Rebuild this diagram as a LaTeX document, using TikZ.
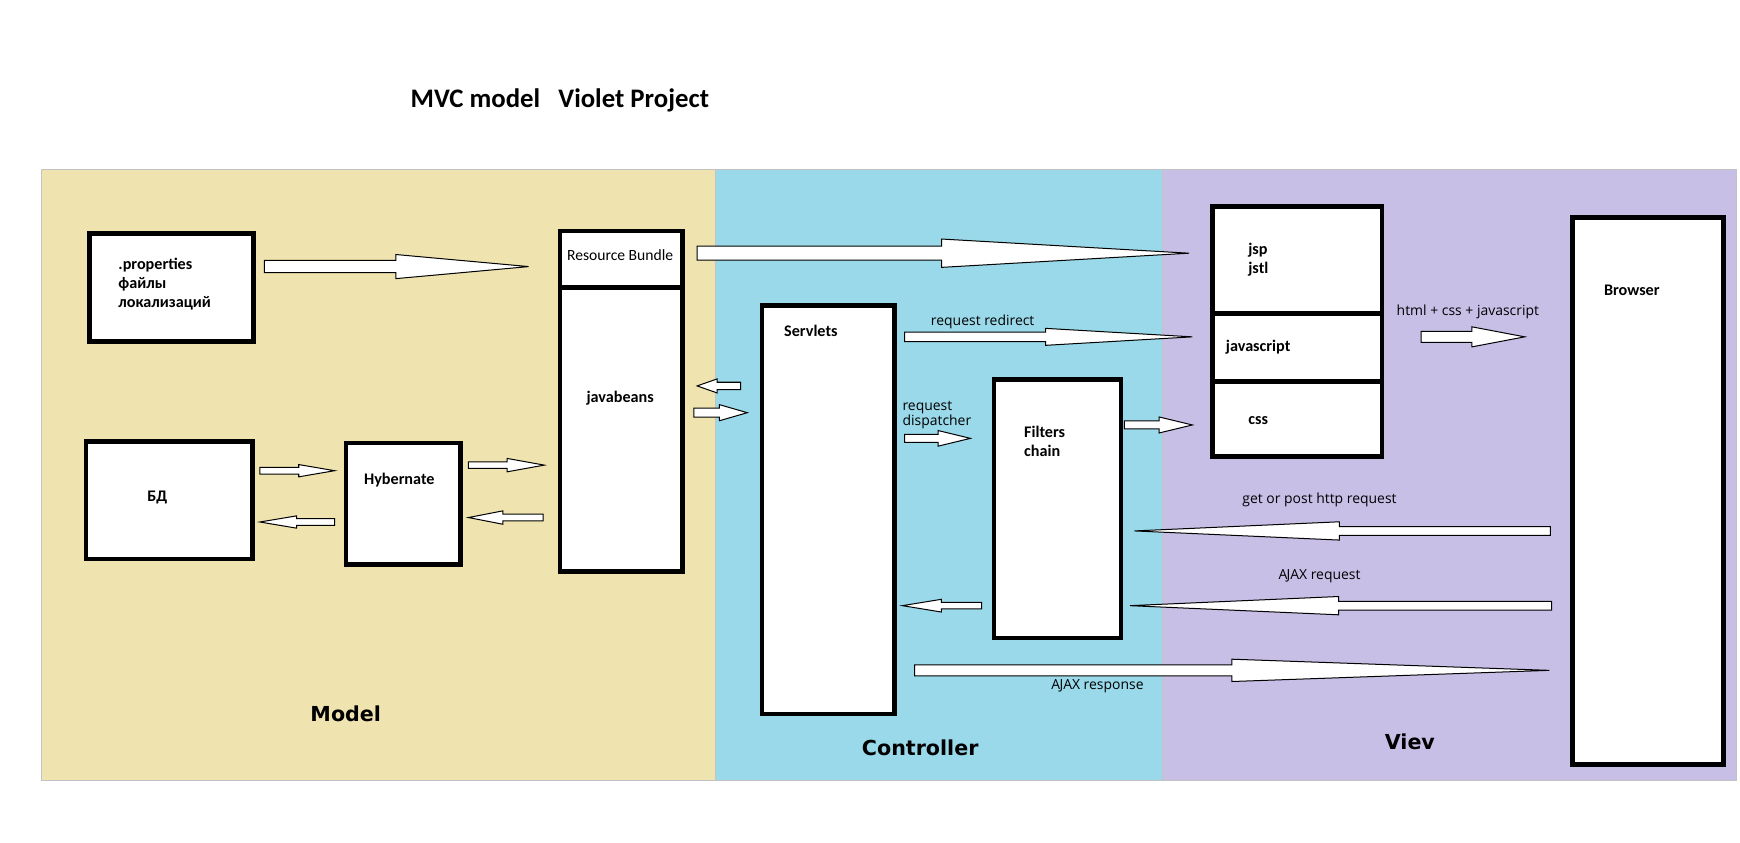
\documentclass[tikz,border=0pt]{standalone}
\usepackage{fontspec}
\setmainfont{Carlito}
\newfontfamily\labfont{Open Sans}
\newfontfamily\secfont{DejaVu Sans}
\usetikzlibrary{calc}
\definecolor{cream}{HTML}{EFE4B0}
\definecolor{turq}{HTML}{99D9EA}
\definecolor{lav}{HTML}{C8BFE7}
\definecolor{pgray}{HTML}{C3C3C3}
% block arrow: start, tip, head fraction, shaft half height, head half height
\newcommand\barrow[5]{%
  \draw[blockarrow] ($(#1)+(0,#4)$) -- ($(#1)!#3!(#2)+(0,#4)$) -- ($(#1)!#3!(#2)+(0,#5)$) -- (#2)
    -- ($(#1)!#3!(#2)+(0,-#5)$) -- ($(#1)!#3!(#2)+(0,-#4)$) -- ($(#1)+(0,-#4)$) -- cycle;}
\newcommand\ajax{A\kern-0.7ptJAX}
\begin{document}
\begin{tikzpicture}[x=1pt,y=-1pt,
  panel/.style={draw=pgray,line width=0.8pt},
  box/.style={draw=black,line width=4.2pt,fill=white,inner sep=0pt,anchor=north west},
  divider/.style={draw=black,line width=4.2pt},
  blockarrow/.style={draw=black,fill=white,line width=0.9pt,line join=miter},
  bl/.style={inner sep=0pt,font=\bfseries\fontsize{14.5}{17}\selectfont},
  rl/.style={inner sep=0pt,font=\fontsize{14}{17}\selectfont},
  sl/.style={inner sep=0pt,font=\labfont\fontsize{12.5}{10.5}\selectfont},
  sec/.style={inner sep=0pt,font=\secfont\bfseries\fontsize{18.5}{22}\selectfont},
  ttl/.style={inner sep=0pt,font=\bfseries\fontsize{24}{28}\selectfont}]
\useasboundingbox[fill=white] (0,0) rectangle (1560,755);
% panels
\fill[cream] (37,152) rectangle (641,700);
\fill[turq] (641,152) rectangle (1042,700);
\fill[lav] (1042,152) rectangle (1557,700);
\draw[panel] (37,152) rectangle (641,700);
\draw[panel] (641,152) rectangle (1042,700);
\draw[panel] (1042,152) rectangle (1557,700);
% title
\node[ttl,anchor=west] (title) at (368,90) {MVC model\ \ \ Violet Project};
% boxes
\node[box,minimum width=147pt,minimum height=97pt] (props) at (78,207) {};
\node[box,minimum width=110pt,minimum height=305pt] (rb) at (500,205) {};
\draw[divider] (500,258) -- (610,258);
\node[box,minimum width=149pt,minimum height=105pt] (db) at (75,394) {};
\node[box,minimum width=103pt,minimum height=109pt] (hyb) at (308,395) {};
\node[box,minimum width=119pt,minimum height=366pt] (serv) at (681,272) {};
\node[box,minimum width=114pt,minimum height=232pt] (filt) at (889,338) {};
\node[box,minimum width=152pt,minimum height=224pt] (view) at (1085,183) {};
\draw[divider] (1085,281) -- (1237,281);
\draw[divider] (1085,342) -- (1237,342);
\node[box,minimum width=135pt,minimum height=490pt] (brow) at (1408,193) {};
% box texts
\node[bl,anchor=west,align=left] (tprops) at (106,255) {.properties\\файлы\\локализаций};
\node[rl] (trb) at (556,229) {Resource Bundle};
\node[bl] (tjb) at (556,357) {javabeans};
\node[bl] (tdb) at (141,446) {БД};
\node[bl] (thyb) at (358,430) {Hybernate};
\node[bl] (tserv) at (727,297) {Servlets};
\node[bl,anchor=west,align=left] (tfilt) at (918,396) {Filters\\chain};
\node[bl,anchor=west,align=left] (tjsp) at (1119,233) {jsp\\jstl};
\node[bl] (tjs) at (1128,311) {javascript};
\node[bl] (tcss) at (1128,377) {css};
\node[bl] (tbrow) at (1463,260) {Browser};
% labels
\node[sl] (lredir) at (881,289) {request redirect};
\node[sl,anchor=west,align=left] (ldisp) at (809,372) {request\\dispatcher};
\node[sl] (lhtml) at (1316,280) {html + css + javascript};
\node[sl] (lget) at (1183,448) {get or post http request};
\node[sl] (lajq) at (1183,517) {\ajax{} request};
\node[sl] (lajr) at (984,615) {\ajax{} response};
\node[sec] (smodel) at (310,640) {Model};
\node[sec] (sctrl) at (825,670) {Controller};
\node[sec] (sview) at (1264,665) {Viev};
% arrow end points
\coordinate (a1s) at (237,239);  \coordinate (a1t) at (474,239);
\coordinate (a2s) at (625,227);  \coordinate (a2t) at (1066,227);
\coordinate (a3s) at (811,302);  \coordinate (a3t) at (1069,302);
\coordinate (a4s) at (664,346);  \coordinate (a4t) at (625,346);
\coordinate (a5s) at (622,370);  \coordinate (a5t) at (670,370);
\coordinate (a6s) at (811,393);  \coordinate (a6t) at (870,393);
\coordinate (a7s) at (1008,381); \coordinate (a7t) at (1069,381);
\coordinate (a8s) at (1274,302); \coordinate (a8t) at (1367,302);
\coordinate (a9s) at (233,422);  \coordinate (a9t) at (300,422);
\coordinate (a10s) at (300,468); \coordinate (a10t) at (233,468);
\coordinate (a11s) at (420,417); \coordinate (a11t) at (488,417);
\coordinate (a12s) at (487,464); \coordinate (a12t) at (420,464);
\coordinate (a13s) at (1390,476); \coordinate (a13t) at (1017,476);
\coordinate (a14s) at (1391,543); \coordinate (a14t) at (1013,543);
\coordinate (a15s) at (880,543); \coordinate (a15t) at (809,543);
\coordinate (a16s) at (820,601); \coordinate (a16t) at (1389,601);
% arrows
\barrow{a1s}{a1t}{0.498}{5.5}{10.8}
\barrow{a2s}{a2t}{0.497}{6.3}{12.7}
\barrow{a3s}{a3t}{0.49}{4.3}{7.6}
\barrow{a4s}{a4t}{0.54}{3.3}{6.3}
\barrow{a5s}{a5t}{0.48}{4}{7.2}
\barrow{a6s}{a6t}{0.51}{3.5}{7}
\barrow{a7s}{a7t}{0.51}{3.6}{7.2}
\barrow{a8s}{a8t}{0.49}{5}{9}
\barrow{a9s}{a9t}{0.52}{3}{5.5}
\barrow{a10s}{a10t}{0.51}{3}{5.5}
\barrow{a11s}{a11t}{0.51}{3}{6}
\barrow{a12s}{a12t}{0.54}{3}{6}
\barrow{a13s}{a13t}{0.507}{3.9}{8.2}
\barrow{a14s}{a14t}{0.505}{3.9}{8.2}
\barrow{a15s}{a15t}{0.507}{2.9}{5.7}
\barrow{a16s}{a16t}{0.5}{4.9}{10}
\end{tikzpicture}
\end{document}
